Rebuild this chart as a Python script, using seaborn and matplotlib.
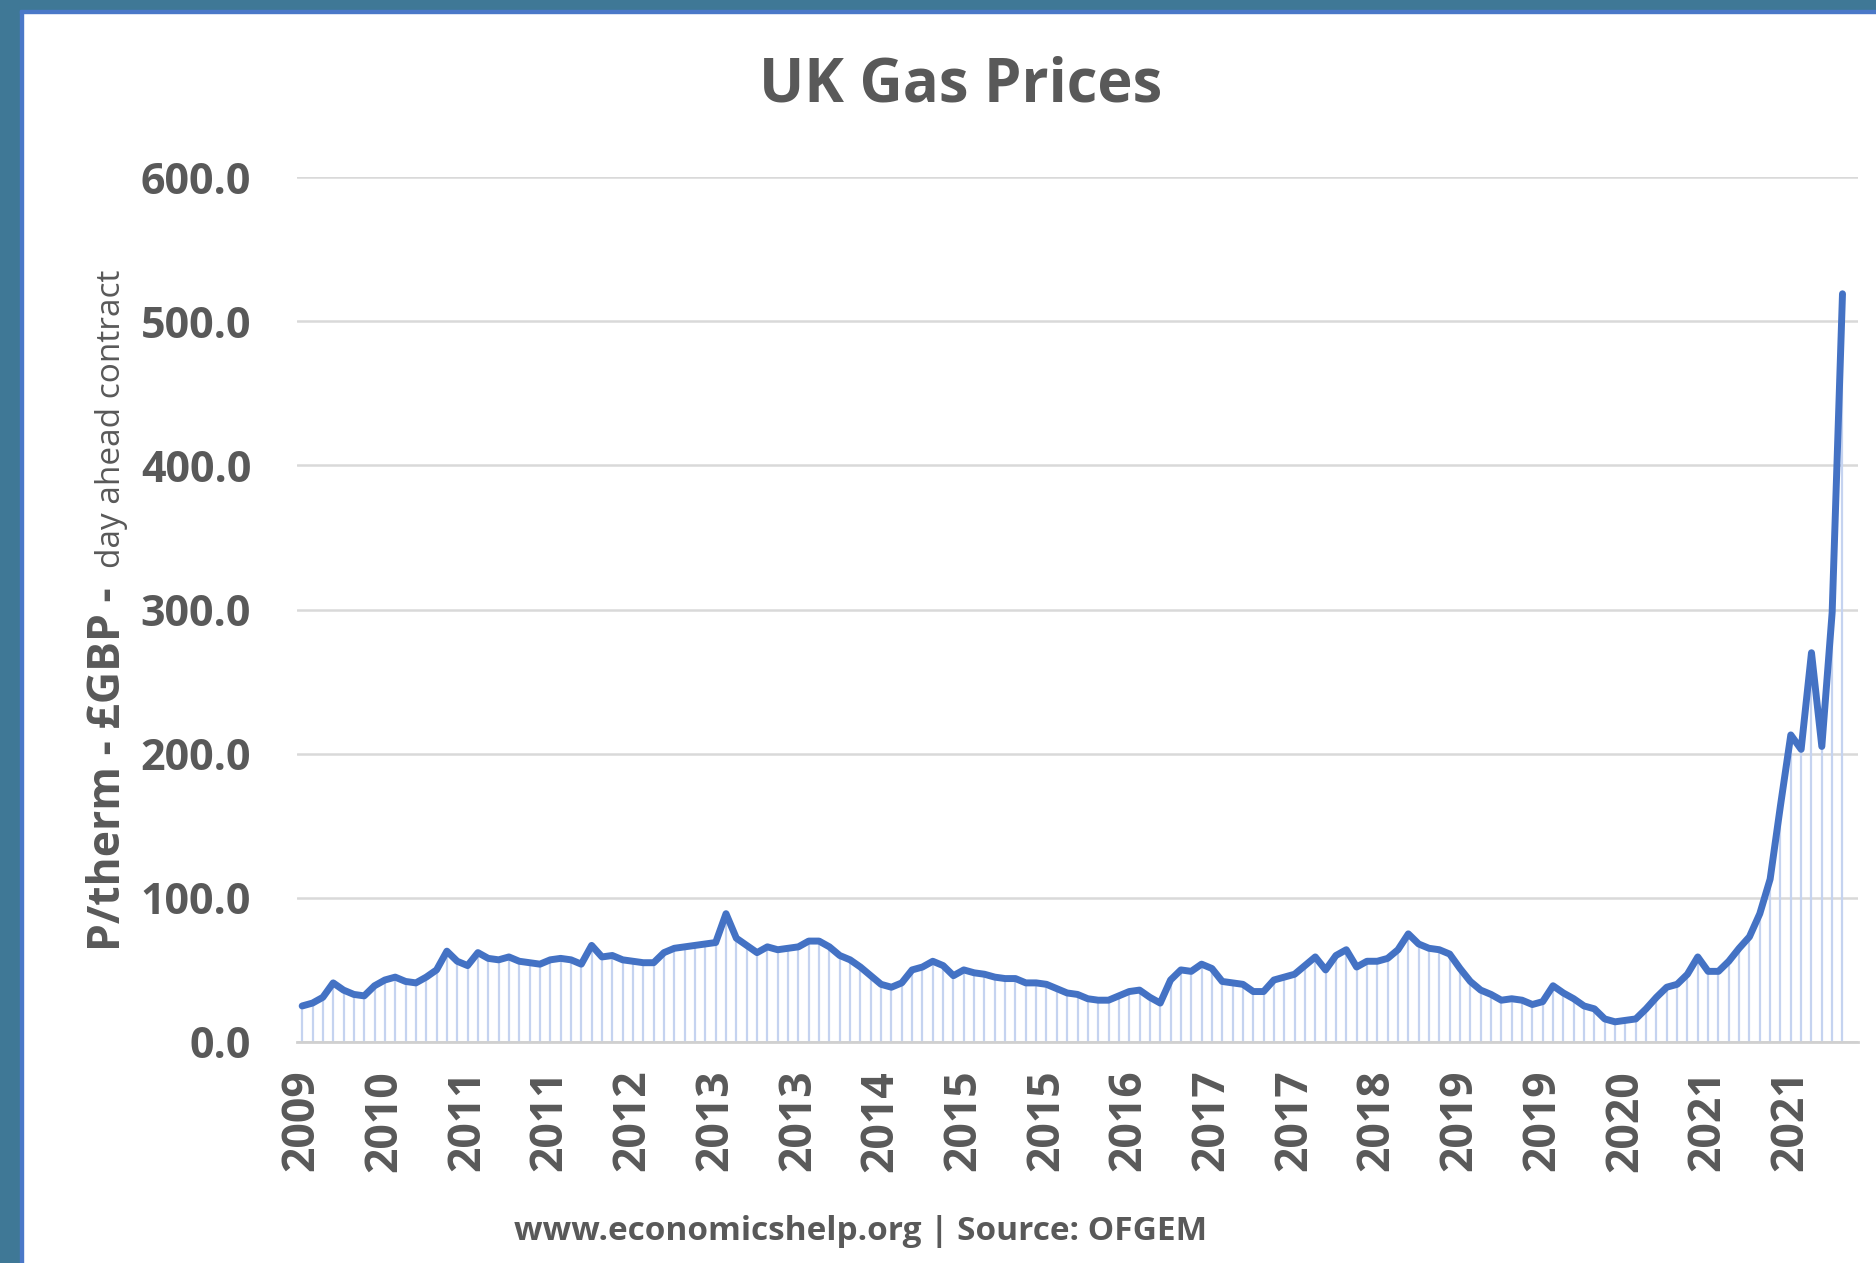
import numpy as np
import pandas as pd
import matplotlib
matplotlib.use("Agg")
import matplotlib.pyplot as plt
from matplotlib.patches import Rectangle
import seaborn as sns

# monthly day-ahead gas price, p/therm
prices = [25, 27, 31, 41, 36, 33, 32, 39, 43, 45,
          42, 41, 45, 50, 63, 56, 53, 62, 58, 57,
          59, 56, 55, 54, 57, 58, 57, 54, 67, 59,
          60, 57, 56, 55, 55, 62, 65, 66, 67, 68,
          69, 89, 72, 67, 62, 66, 64, 65, 66, 70,
          70, 66, 60, 57, 52, 46, 40, 38, 41, 50,
          52, 56, 53, 46, 50, 48, 47, 45, 44, 44,
          41, 41, 40, 37, 34, 33, 30, 29, 29, 32,
          35, 36, 31, 27, 43, 50, 49, 54, 51, 42,
          41, 40, 35, 35, 43, 45, 47, 53, 59, 50,
          60, 64, 52, 56, 56, 58, 64, 75, 68, 65,
          64, 61, 51, 42, 36, 33, 29, 30, 29, 26,
          28, 39, 34, 30, 25, 23, 16, 14, 15, 16,
          23, 31, 38, 40, 47, 59, 49, 49, 56, 65,
          73, 89, 113, 164, 213, 203, 270, 205, 298, 519]

tick_labels = ["2009", "2010", "2011", "2011", "2012", "2013", "2013", "2014",
               "2015", "2015", "2016", "2017", "2017", "2018", "2019", "2019",
               "2020", "2021", "2021"]
tick_step = 8
y_ticks = [0, 100, 200, 300, 400, 500, 600]

df = pd.DataFrame({"idx": np.arange(len(prices)), "price": prices})

sns.set_theme(style="white")
plt.rcParams["font.family"] = ["Open Sans", "DejaVu Sans"]

grey = "#595959"
blue = "#4472C4"

fig = plt.figure(figsize=(18.76, 12.63), dpi=100)
W, H = 1876, 1263

# blue frame on left and top edges
fig.patches.append(Rectangle((0, 0), 20 / W, 1, transform=fig.transFigure,
                             color="#3f7896", zorder=0))
fig.patches.append(Rectangle((20 / W, 0), 3 / W, 1 - 10 / H, transform=fig.transFigure,
                             color="#4a78c8", zorder=0))
fig.patches.append(Rectangle((0, 1 - 10 / H), 1, 10 / H, transform=fig.transFigure,
                             color="#3f7896", zorder=0))
fig.patches.append(Rectangle((20 / W, 1 - 13 / H), 1, 3 / H, transform=fig.transFigure,
                             color="#4a78c8", zorder=0))

ax = fig.add_axes([297 / W, 1 - 1042 / H, 1561 / W, 865 / H])

ax.vlines(df["idx"], 0, df["price"], color="#c5d3f0", lw=1.6, zorder=1)
sns.lineplot(data=df, x="idx", y="price", ax=ax, color=blue, lw=5, zorder=3)

ax.set_xlim(-0.5, len(prices) + 0.5)
ax.set_ylim(0, 600)
ax.set_yticks(y_ticks)
ax.set_yticklabels([f"{v:.1f}" for v in y_ticks])
ax.set_xticks(np.arange(len(tick_labels)) * tick_step)
ax.set_xticklabels(tick_labels, rotation=90)

ax.grid(axis="y", color="#d9d9d9", lw=1.8)
ax.set_axisbelow(True)
for s in ["top", "right", "left"]:
    ax.spines[s].set_visible(False)
ax.spines["bottom"].set_color("#d0d0d0")
ax.spines["bottom"].set_linewidth(2)
ax.tick_params(axis="y", length=0, labelcolor=grey, labelsize=31, pad=33)
ax.tick_params(axis="x", length=0, labelcolor=grey, labelsize=32, pad=20)
for lab in ax.get_xticklabels() + ax.get_yticklabels():
    lab.set_fontweight("bold")
ax.set_xlabel("")
ax.set_ylabel("")

fig.text(961 / W, 1 - 86 / H, "UK Gas Prices", ha="center", va="center",
         fontsize=43, fontweight="bold", color=grey)

# y label: bold part and small regular part
fig.text(120 / W, 1 - 951 / H, "P/therm - £GBP -", rotation=90, rotation_mode="anchor",
         ha="left", va="baseline", fontsize=32, fontweight="bold", color=grey)
fig.text(120 / W, 1 - 568 / H, "day ahead contract", rotation=90, rotation_mode="anchor",
         ha="left", va="baseline", fontsize=24, color=grey)

fig.text(861 / W, 1 - 1232 / H, "www.economicshelp.org | Source: OFGEM", ha="center",
         va="center", fontsize=24, fontweight="bold", color=grey)

fig.savefig("out.png", dpi=100, facecolor="white")
